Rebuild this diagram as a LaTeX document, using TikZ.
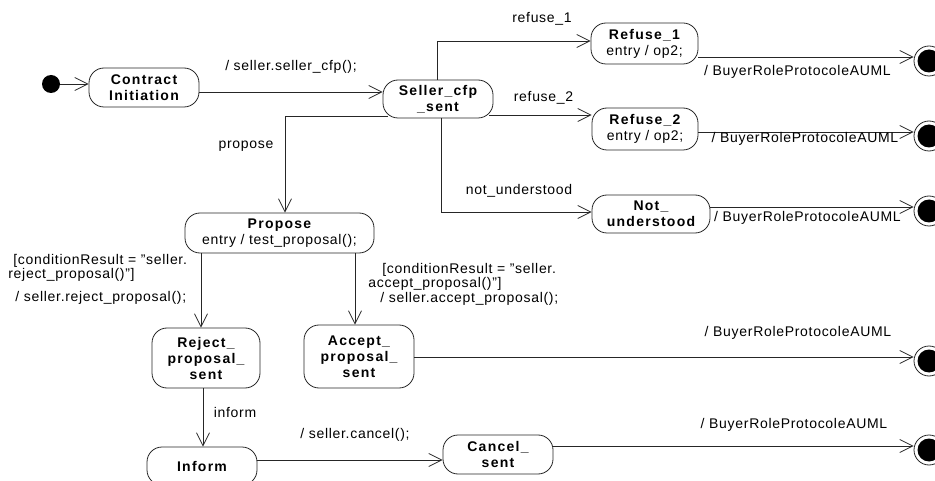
\documentclass[tikz,border=0pt]{standalone}
\usepackage{fontspec}
\setmainfont{Liberation Sans}[LetterSpace=5]
\usetikzlibrary{arrows.meta,calc}
\begin{document}
\begin{tikzpicture}[x=1pt,y=-1pt,line width=0.8pt,
  every node/.style={inner sep=0pt,font=\fontsize{14}{16}\selectfont},
  st/.style={draw=black!85,rounded corners=15pt,align=center,font=\fontsize{14}{16}\selectfont\bfseries\addfontfeature{LetterSpace=9}},
  lab/.style={font=\fontsize{14}{16}\selectfont},
  cond/.style={font=\fontsize{14}{14}\selectfont,align=left,anchor=west},
  fin/.style={draw=black!85,circle,minimum size=30pt},
  arr/.style={draw=black!85,-{Straight Barb[length=13pt,width=13pt]}}]
\useasboundingbox (0,0) rectangle (935,481);
\clip (0,0) rectangle (935,481);

% states
\node[fill,circle,minimum size=18pt] (init) at (51,84) {};
\node[st,minimum width=110pt,minimum height=39pt] (ci) at (144,87.5) {Contract\\Initiation};
\node[st,minimum width=110pt,minimum height=38pt] (scs) at (438,99) {Seller\_cfp\\\_sent};
\node[st,minimum width=107pt,minimum height=41pt] (r1) at (644.5,43.5) {Refuse\_1\\\mdseries\addfontfeature{LetterSpace=5} entry / op2;};
\node[st,minimum width=106pt,minimum height=42pt] (r2) at (645,129) {Refuse\_2\\\mdseries\addfontfeature{LetterSpace=5} entry / op2;};
\node[st,minimum width=118pt,minimum height=38pt] (nu) at (651,214) {Not\_\\understood};
\node[st,minimum width=189pt,minimum height=40pt] (pr) at (279.5,233) {Propose\\\mdseries\addfontfeature{LetterSpace=5} entry / test\_proposal();};
\node[st,minimum width=108pt,minimum height=60pt] (rj) at (206,358) {Reject\_\\proposal\_\\sent};
\node[st,minimum width=110pt,minimum height=63pt] (ac) at (359,356.5) {Accept\_\\proposal\_\\sent};
\node[st,minimum width=110pt,minimum height=38pt] (inf) at (202,466) {Inform};
\node[st,minimum width=110pt,minimum height=39pt] (cs) at (498,454.5) {Cancel\_\\sent};

\foreach \n/\yy in {f1/61,f2/136,f3/211,f4/361,f5/450}{
  \node[fin] (\n) at (929,\yy) {};
  \fill (\n.center) circle[radius=11.5];
}

% transitions
\draw[arr] (init) -- (ci.west |- init);
\draw[arr] (ci.east |- 0,92) -- (scs.west |- 0,92);
\draw[arr] ($(scs.north)+(-1,0)$) |- (r1.west |- 0,41);
\draw[arr] ($(scs.east |- 0,115)+(-4,0)$) -- (r2.west |- 0,115);
\draw[arr] ($(scs.south)+(3,0)$) |- (nu.west |- 0,212);
\draw[arr] ($(scs.west |- 0,116)+(5,0)$) -| ($(pr.north)+(5.5,0)$);
\draw[arr] (pr.south -| 201,0) -- (rj.north -| 201,0);
\draw[arr] (pr.south -| 355,0) -- (ac.north -| 355,0);
\draw[arr] (rj.south -| 203,0) -- (inf.north -| 203,0);
\draw[arr] (inf.east |- 0,460) -- (cs.west |- 0,460);
\draw[arr] (r1.east |- 0,57) -- (f1.west |- 0,57);
\draw[arr] (r2.east |- 0,132) -- (f2.west |- 0,132);
\draw[arr] (nu.east |- 0,207) -- (f3.west |- 0,207);
\draw[arr] (ac.east |- 0,357) -- (f4.west |- 0,357);
\draw[arr] (cs.east |- 0,446) -- (f5.west |- 0,446);

% labels
\node[lab] (l1) at (291,67) {/ seller.seller\_cfp();};
\node[lab] (l2) at (542,19) {refuse\_1};
\node[lab] (l3) at (543.5,98) {refuse\_2};
\node[lab] (l4) at (519,191) {not\_understood};
\node[lab] (l5) at (246,146) {propose};
\node[lab] (l6) at (235,412) {inform};
\node[lab] (l7) at (355,435) {/ seller.cancel();};
\node[lab] (l8) at (797.5,72) {/ BuyerRoleProtocoleAUML};
\node[lab] (l9) at (805,139) {/ BuyerRoleProtocoleAUML};
\node[lab] (l10) at (807.5,218) {/ BuyerRoleProtocoleAUML};
\node[lab] (l11) at (798,333) {/ BuyerRoleProtocoleAUML};
\node[lab] (l12) at (794,425) {/ BuyerRoleProtocoleAUML};
\node[cond] (l13) at (8,279.5) {\hspace*{5pt}[conditionResult = "seller.\\reject\_proposal()"]\\[9pt]\hspace*{7pt}/ seller.reject\_proposal();};
\node[cond] (l14) at (368,284.5) {\hspace*{14pt}[conditionResult = "seller.\\accept\_proposal()"]\\[1pt]\hspace*{12pt}/ seller.accept\_proposal();};
\end{tikzpicture}
\end{document}
